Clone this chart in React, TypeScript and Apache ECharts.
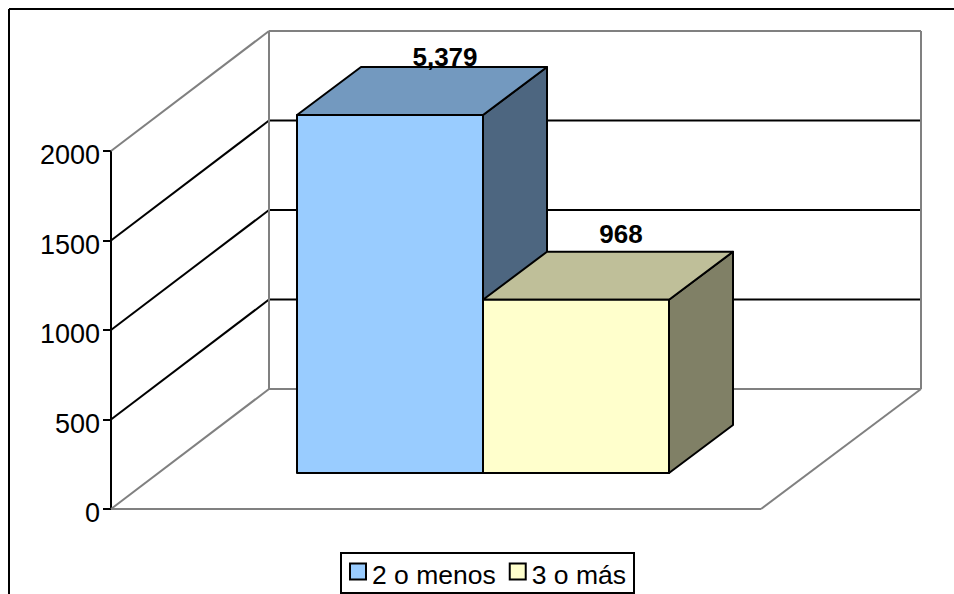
import React, { useEffect, useRef } from "react";
import * as echarts from "echarts";

const categories = [""];
const seriesNames = ["2 o menos", "3 o más"];
const seriesValues = [5379, 968];
const valueLabels = ["5,379", "968"];
const tickValues = [0, 500, 1000, 1500, 2000];
const axisMax = 2000;

const frontColors = ["#99CCFF", "#FFFFCC"];
const topColors = ["#7399BF", "#BFBF99"];
const sideColors = ["#4D6680", "#808066"];
const labelShift = [[55, -10], [45, -18]];

const FONT = "Liberation Sans";
const WALL_DX_LEFT = 158;
const WALL_DX_RIGHT = 160;
const WALL_DY = -120;
const BAR_INSET_X = 47;
const BAR_INSET_Y = -36;
const BAR_DX = 64;
const BAR_DY = -48;
const BAR_WIDTH = 186;

const line = (x1: number, y1: number, x2: number, y2: number, stroke: string) => ({
  type: "line",
  shape: { x1, y1, x2, y2 },
  style: { stroke, lineWidth: 2, fill: null },
});

const poly = (points: number[][], fill: string) => ({
  type: "polygon",
  shape: { points },
  style: { fill, stroke: "#000", lineWidth: 2, lineJoin: "round" },
});

const wallItem = (params: any, api: any) => {
  const v = api.value(1);
  const [, y] = api.coord([0, v]);
  const x0 = params.coordSys.x;
  const x1 = x0 + params.coordSys.width;
  const edge = v === 0 || v === axisMax;
  const color = edge ? "#808080" : "#000";
  const backL = x0 + WALL_DX_LEFT;
  const backR = x1 + WALL_DX_RIGHT;
  const backY = y + WALL_DY;
  const children: any[] = [
    line(x0, y, backL, backY, color),
    line(backL, backY, backR, backY, color),
  ];
  if (v === 0) {
    children.push(line(x0, y, x1, y, "#808080"));
    children.push(line(x1, y, backR, backY, "#808080"));
  }
  if (v === axisMax) {
    const [, yz] = api.coord([0, 0]);
    children.push(line(backL, backY, backL, yz + WALL_DY, "#808080"));
    children.push(line(backR, backY, backR, yz + WALL_DY, "#808080"));
  }
  return { type: "group", children };
};

const barItem = (index: number) => (params: any, api: any) => {
  const clipped = Math.min(api.value(1), axisMax);
  const [cx, y0] = api.coord([api.value(0), 0]);
  const [, y1] = api.coord([api.value(0), clipped]);
  const xl = cx + BAR_INSET_X + (index - 1) * BAR_WIDTH;
  const xr = xl + BAR_WIDTH;
  const yb = y0 + BAR_INSET_Y;
  const yt = y1 + BAR_INSET_Y;
  const d = BAR_DX;
  const e = BAR_DY;
  return {
    type: "group",
    children: [
      poly([[xr, yb], [xr + d, yb + e], [xr + d, yt + e], [xr, yt]], sideColors[index]),
      poly([[xl, yt], [xl + d, yt + e], [xr + d, yt + e], [xr, yt]], topColors[index]),
      poly([[xl, yb], [xr, yb], [xr, yt], [xl, yt]], frontColors[index]),
      {
        type: "text",
        x: (xl + xr) / 2 + labelShift[index][0],
        y: yt + e + labelShift[index][1],
        style: {
          text: valueLabels[index],
          fill: "#000",
          font: `bold 26px "${FONT}"`,
          align: "center",
          verticalAlign: "middle",
        },
      },
    ],
  };
};

export default function App() {
  const ref = useRef<HTMLDivElement>(null);
  useEffect(() => {
    document.body.style.margin = "0";
    const chart = echarts.init(ref.current!, null, { renderer: "svg" });
    chart.setOption({
      animation: false,
      backgroundColor: "#fff",
      textStyle: { fontFamily: FONT },
      grid: { left: 111, top: 151, width: 650, height: 358, containLabel: false },
      xAxis: {
        type: "category",
        data: categories,
        axisLine: { show: false },
        axisTick: { show: false },
        axisLabel: { show: false },
      },
      yAxis: {
        type: "value",
        min: 0,
        max: axisMax,
        interval: 500,
        splitLine: { show: false },
        axisLine: { show: true, lineStyle: { color: "#000", width: 2 } },
        axisTick: { show: true, length: 8, lineStyle: { color: "#000", width: 2 } },
        axisLabel: {
          color: "#000",
          fontSize: 27,
          fontFamily: FONT,
          margin: 11,
          verticalAlign: "top",
          lineHeight: 8,
          formatter: (v: number) => String(v),
        },
      },
      legend: {
        show: true,
        data: seriesNames,
        left: 341,
        top: 553,
        orient: "horizontal",
        selectedMode: false,
        backgroundColor: "#fff",
        borderColor: "#000",
        borderWidth: 2,
        padding: [2, 8, 5, 8],
        itemWidth: 16,
        itemHeight: 36,
        itemGap: 13,
        itemStyle: { borderColor: "#000", borderWidth: 2 },
        icon: "path://M0 10H16V26H0Z",
        formatter: "{t|{name}}",
        textStyle: {
          color: "#000",
          fontSize: 26.5,
          fontFamily: FONT,
          rich: { t: { color: "#000", fontSize: 26.5, fontFamily: FONT, padding: [6, 0, 0, 1], lineHeight: 30 } },
        },
      },
      graphic: [
        line(9, 9, 954, 9, "#000"),
        line(9, 9, 9, 594, "#000"),
      ],
      series: [
        {
          type: "custom",
          name: "walls",
          silent: true,
          z: 1,
          data: tickValues.map((t) => [0, t]),
          encode: { x: 0, y: 1 },
          renderItem: wallItem,
        },
        ...seriesNames.map((name, i) => ({
          type: "custom",
          name,
          silent: true,
          z: 3 + i,
          itemStyle: { color: frontColors[i], borderColor: "#000", borderWidth: 2 },
          data: [[0, seriesValues[i]]],
          encode: { x: 0, y: 1 },
          renderItem: barItem(i),
        })),
      ],
    });
    return () => chart.dispose();
  }, []);
  return <div ref={ref} style={{ width: 954, height: 594 }} />;
}
